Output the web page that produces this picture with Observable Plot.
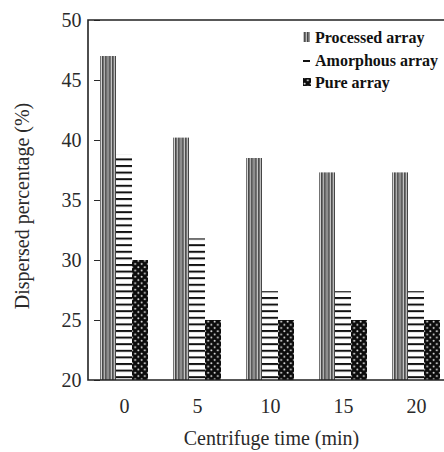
<!DOCTYPE html>
<html>
<head>
<meta charset="utf-8">
<script src="https://cdn.jsdelivr.net/npm/d3@7"></script>
<script src="https://cdn.jsdelivr.net/npm/@observablehq/plot@0.6"></script>
<style>
  html, body { margin: 0; padding: 0; background: white; overflow: hidden; }
  #chart svg { display: block; }
</style>
</head>
<body>
<div id="chart"></div>
<script>
// ---- data ----
const times = ["0", "5", "10", "15", "20"];
const seriesNames = ["Processed array", "Amorphous array", "Pure array"];
const processed = [47, 40.2, 38.5, 37.3, 37.3];
const amorphous = [38.8, 31.8, 27.4, 27.4, 27.4];
const pure = [30, 25, 25, 25, 25];
const yTicks = [20, 25, 30, 35, 40, 45, 50];
const yMin = 20, yMax = 50;
const xTitle = "Centrifuge time (min)";
const yTitle = "Dispersed percentage (%)";
const patternIds = ["pat-proc", "pat-amor", "pat-pure"];

const seriesValues = [processed, amorphous, pure];
const rows = times.flatMap((t, i) =>
  seriesNames.map((s, k) => ({ time: t, series: s, value: seriesValues[k][i] }))
);

const serif = "'Liberation Serif', 'Times New Roman', serif";
const W = 444, H = 452, mL = 88, mR = -9, mT = 20, mB = 72;

const barMarks = seriesNames.map((s, k) =>
  Plot.barY(rows.filter(d => d.series === s), {
    fx: "time", x: "series", y1: yMin, y2: "value",
    fill: `url(#${patternIds[k]})`, inset: 0
  })
);

const chart = Plot.plot({
  width: W, height: H,
  marginLeft: mL, marginRight: mR, marginTop: mT, marginBottom: mB,
  style: { fontFamily: serif, fontSize: "20px", color: "#2a2a2a", background: "white" },
  fx: {
    domain: times, paddingInner: 0.342, paddingOuter: 0.171,
    label: null, tickSize: 0, tickPadding: 18
  },
  x: { domain: seriesNames, padding: 0, axis: null },
  y: {
    domain: [yMin, yMax], ticks: yTicks, tickSize: 6, tickPadding: 13,
    label: null, tickFormat: d => String(d)
  },
  marks: [ ...barMarks ]
});

document.getElementById("chart").appendChild(chart);

const svgNode = chart.tagName.toLowerCase() === "svg" ? chart : chart.querySelector("svg");
const svg = d3.select(svgNode);
const yScale = chart.scale("y");

// ---- fill patterns ----
const defs = svg.insert("defs", ":first-child");

const pProc = defs.append("pattern").attr("id", patternIds[0])
  .attr("patternUnits", "userSpaceOnUse").attr("width", 3.3).attr("height", 10);
pProc.append("rect").attr("width", 3.3).attr("height", 10).attr("fill", "#d4d4d4");
pProc.append("rect").attr("x", 1.0).attr("width", 1.1).attr("height", 10).attr("fill", "#181818");
pProc.append("rect").attr("x", 2.1).attr("width", 1.2).attr("height", 10).attr("fill", "#747474");

const pAmor = defs.append("pattern").attr("id", patternIds[1])
  .attr("patternUnits", "userSpaceOnUse").attr("width", 10).attr("height", 6.6);
pAmor.append("rect").attr("width", 10).attr("height", 6.6).attr("fill", "white");
pAmor.append("rect").attr("y", 0).attr("width", 10).attr("height", 2).attr("fill", "#111");

const pPure = defs.append("pattern").attr("id", patternIds[2])
  .attr("patternUnits", "userSpaceOnUse").attr("width", 6.4).attr("height", 6.4);
pPure.append("rect").attr("width", 6.4).attr("height", 6.4).attr("fill", "#0c0c0c");
pPure.append("circle").attr("cx", 1.6).attr("cy", 1.6).attr("r", 1.0).attr("fill", "#e8e8e8");
pPure.append("circle").attr("cx", 4.8).attr("cy", 4.8).attr("r", 1.0).attr("fill", "#e8e8e8");

// ---- plot frame (top, left, bottom) ----
const yTop = yScale.apply(yMax), yBot = yScale.apply(yMin);
const xLeft = mL, xRight = W - mR;
const frame = svg.append("g").attr("stroke", "#222").attr("stroke-width", 1.6).attr("fill", "none");
frame.append("path").attr("d", `M${xRight},${yTop}H${xLeft}V${yBot}H${xRight}`);

// ---- axis titles ----
svg.append("text").attr("font-family", serif).attr("font-size", 20).attr("fill", "#2a2a2a")
  .attr("text-anchor", "middle").attr("x", (xLeft + xRight) / 2 + 1).attr("y", H - 7)
  .text(xTitle);
svg.append("text").attr("font-family", serif).attr("font-size", 20).attr("fill", "#2a2a2a")
  .attr("text-anchor", "middle")
  .attr("transform", `translate(29,${(yTop + yBot) / 2 + 6}) rotate(-90)`)
  .text(yTitle);

// ---- legend ----
const legend = svg.append("g").attr("font-family", serif).attr("font-weight", "bold")
  .attr("font-size", 16).attr("fill", "#111").attr("text-anchor", "start");
const legendRowsY = [37, 60, 82];
seriesNames.forEach((s, k) => {
  const g = legend.append("g").attr("transform", `translate(303,${legendRowsY[k]})`);
  if (k === 0) {
    g.append("rect").attr("x", 0).attr("y", -5).attr("width", 7).attr("height", 10).attr("fill", `url(#${patternIds[0]})`);
  } else if (k === 1) {
    g.append("rect").attr("x", 0).attr("y", 0).attr("width", 7).attr("height", 2).attr("fill", "#111");
  } else {
    g.append("rect").attr("x", 0).attr("y", -4).attr("width", 8).attr("height", 8).attr("fill", `url(#${patternIds[2]})`);
  }
  g.append("text").attr("x", 12).attr("dy", "0.35em").text(s);
});
</script>
</body>
</html>
